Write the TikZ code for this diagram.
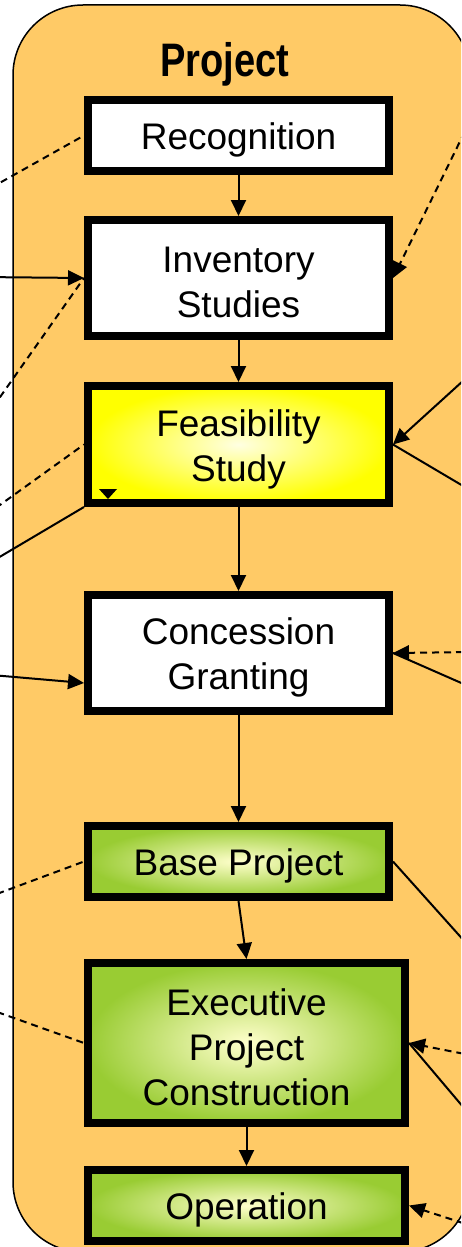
\documentclass[tikz,border=0pt]{standalone}
\usepackage{fontspec}
\setmainfont{Liberation Sans}
\usetikzlibrary{arrows.meta,calc}
\definecolor{panel}{RGB}{255,202,102}
\definecolor{leaf}{RGB}{153,204,51}
\definecolor{paleleaf}{RGB}{255,255,204}
\definecolor{paleyel}{RGB}{255,255,226}
\begin{document}
\begin{tikzpicture}[x=1pt,y=-1pt,
  box/.style={draw=black,line width=8pt,outer sep=4pt,inner sep=0pt},
  plainbox/.style={box,fill=white},
  yelbox/.style={box,inner color=paleyel,outer color=yellow},
  grnbox/.style={box,inner color=paleleaf,outer color=leaf},
  txt/.style={align=center,inner sep=0pt,font=\fontsize{37}{45}\selectfont},
  link/.style={line width=2pt},
  dlink/.style={line width=2pt,dash pattern=on 7pt off 5pt},
  tip/.style={-{Triangle[length=16pt,width=15pt]}}
]
\useasboundingbox (0,0) rectangle (461,1247);
\clip (0,0) rectangle (461,1247);
% container
\node[draw=black,line width=1.5pt,fill=panel,rounded corners=70pt,
  minimum width=457pt,minimum height=1247pt,inner sep=0pt] (frame) at (241.5,628.5) {};
\node[anchor=base,font=\fontsize{47}{50}\selectfont\bfseries,inner sep=0pt] (title) at (225,77)
  {\scalebox{0.81}[1]{Project}};
% boxes
\node[plainbox,minimum width=301pt,minimum height=71pt] (rec) at (238.5,135.5) {};
\node[plainbox,minimum width=301pt,minimum height=116pt] (inv) at (238.5,278) {};
\node[yelbox,minimum width=301pt,minimum height=117pt] (fea) at (238.5,444.5) {};
\node[plainbox,minimum width=301pt,minimum height=116pt] (con) at (238.5,653) {};
\node[grnbox,minimum width=301pt,minimum height=71pt] (base) at (238.5,861.5) {};
\node[grnbox,minimum width=317pt,minimum height=160pt] (exe) at (246.5,1043) {};
\node[grnbox,minimum width=317pt,minimum height=71pt] (op) at (246.5,1205.5) {};
% box texts
\node[txt] (recT) at ([yshift=-4.5pt]rec.center) {Recognition};
\node[txt] (invT) at ([yshift=-4.5pt]inv.center) {Inventory\\Studies};
\node[txt] (feaT) at ([yshift=-4.5pt]fea.center) {Feasibility\\Study};
\node[txt] (conT) at ([yshift=-4.5pt]con.center) {Concession\\Granting};
\node[txt] (baseT) at ([yshift=-4.5pt]base.center) {Base Project};
\node[txt] (exeT) at ([yshift=-4.5pt]exe.center) {Executive\\Project\\Construction};
\node[txt] (opT) at ([yshift=-4.5pt]op.center) {Operation};
% outer ends
\coordinate (L1) at (-20,194);
\coordinate (L2) at (-20,277);
\coordinate (L3) at (-14,417);
\coordinate (L4) at (-14,515);
\coordinate (L5) at (-14,565);
\coordinate (L6) at (-20,674);
\coordinate (L7) at (-14,898);
\coordinate (L8) at (-14,1008);
\coordinate (R9) at (470,121);
\coordinate (R10) at (475,370);
\coordinate (R11) at (475,493);
\coordinate (R12) at (475,652);
\coordinate (R13) at (475,689);
\coordinate (R14) at (475,953);
\coordinate (R15) at (475,1056);
\coordinate (R16) at (475,1121);
\coordinate (R17) at (475,1227);
% flow
\draw[link,tip] (rec.south) -- (inv.north);
\draw[link,tip] (inv.south) -- (fea.north);
\draw[link,tip] (fea.south) -- (con.north);
\draw[link,tip] (con.south) -- (base.north);
\draw[link,tip] (base.south) -- (exe.north);
\draw[link,tip] (exe.south) -- (op.north);
% left side
\draw[dlink] (L1) -- (rec.west);
\draw[link,tip] (L2) -- (inv.west);
\draw[dlink] (L3) -- (inv.west);
\draw[dlink] (L4) -- (fea.west);
\draw[link] (L5) -- (fea.south west);
\fill ($(fea.south west)+(15,-18)$) -- ++(18,0) -- ++(-9,10) -- cycle;
\draw[link,tip] (L6) -- ([yshift=-30pt]con.west);
\draw[dlink] (L7) -- (base.west);
\draw[dlink] (L8) -- (exe.west);
% right side
\draw[dlink,tip] (R9) -- (inv.east);
\draw[link,tip] (R10) -- (fea.east);
\draw[link] (fea.east) -- (R11);
\draw[dlink,tip] (R12) -- (con.east);
\draw[link] (con.east) -- (R13);
\draw[link] (base.east) -- (R14);
\draw[dlink,tip] (R15) -- (exe.east);
\draw[link] (exe.east) -- (R16);
\draw[dlink,tip] (R17) -- (op.east);
\end{tikzpicture}
\end{document}
